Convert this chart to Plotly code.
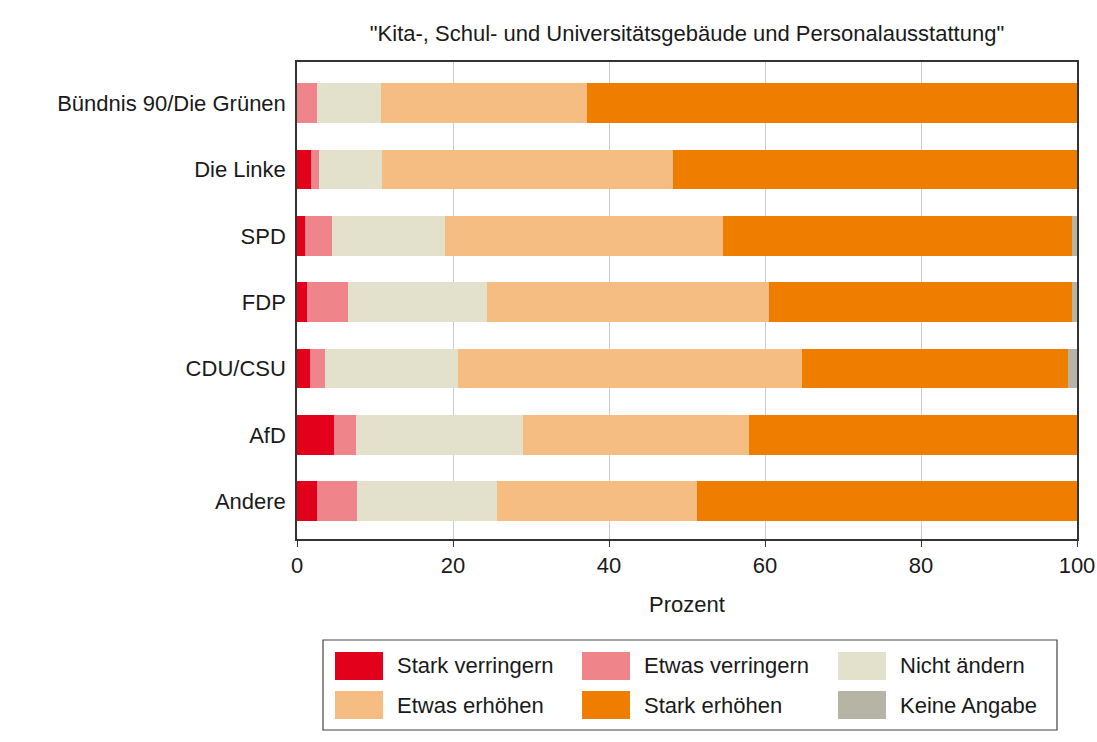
import plotly.graph_objects as go

categories = ["Bündnis 90/Die Grünen", "Die Linke", "SPD", "FDP", "CDU/CSU", "AfD", "Andere"]
series_names = ["Stark verringern", "Etwas verringern", "Nicht ändern",
                "Etwas erhöhen", "Stark erhöhen", "Keine Angabe"]
colors = ["#E3001B", "#F0848B", "#E3E0CC", "#F6BD82", "#EF7D00", "#B5B4A5"]

stark_verringern = [0.0, 1.8, 1.0, 1.3, 1.7, 4.7, 2.6]
etwas_verringern = [2.5, 1.0, 3.5, 5.3, 1.9, 2.9, 5.1]
nicht_aendern = [8.3, 8.1, 14.5, 17.7, 17.1, 21.4, 18.0]
etwas_erhoehen = [26.4, 37.3, 35.6, 36.2, 44.1, 28.9, 25.6]
stark_erhoehen = [62.8, 51.8, 44.8, 38.9, 34.0, 42.1, 48.7]
keine_angabe = [0.0, 0.0, 0.6, 0.6, 1.2, 0.0, 0.0]

series_values = [stark_verringern, etwas_verringern, nicht_aendern,
                 etwas_erhoehen, stark_erhoehen, keine_angabe]

x_ticks = [0, 20, 40, 60, 80, 100]

FONT = "Liberation Sans, Arial, sans-serif"
FS = 22
W, H = 1097, 742
# plot area in window pixel coordinates
PX0, PX1, PY0, PY1 = 297, 1077, 62, 539
L, R, T, B = PX0, W - PX1, PY0, H - PY1
pw, ph = W - L - R, H - T - B

fig = go.Figure()
for name, vals, col in zip(series_names, series_values, colors):
    fig.add_trace(go.Bar(
        y=categories, x=vals, name=name, orientation="h",
        marker=dict(color=col, line=dict(width=0)),
        width=0.6, showlegend=False,
    ))

def px2paper_x(px):
    return (px - PX0) / (PX1 - PX0)

def px2paper_y(py):
    return (PY1 - py) / (PY1 - PY0)

shapes = []
annotations = []
# legend box
shapes.append(dict(type="rect", xref="paper", yref="paper",
                   x0=px2paper_x(323), x1=px2paper_x(1057),
                   y0=px2paper_y(730), y1=px2paper_y(640),
                   line=dict(color="#444444", width=1.2), fillcolor="rgba(0,0,0,0)"))
col_x = [335, 582, 838]
row_y = [652, 691]
for i, (name, col) in enumerate(zip(series_names, colors)):
    r, c = divmod(i, 3)
    x0 = col_x[c]
    y0 = row_y[r]
    shapes.append(dict(type="rect", xref="paper", yref="paper",
                       x0=px2paper_x(x0), x1=px2paper_x(x0 + 48),
                       y0=px2paper_y(y0 + 28), y1=px2paper_y(y0),
                       line=dict(width=0), fillcolor=col))
    annotations.append(dict(xref="paper", yref="paper",
                            x=px2paper_x(x0 + 60), y=px2paper_y(y0 + 14),
                            text=name, showarrow=False, xanchor="left", yanchor="middle",
                            font=dict(family=FONT, size=FS, color="#1a1a1a")))

fig.update_layout(
    width=W, height=H,
    margin=dict(l=L, r=R, t=T, b=B, autoexpand=False),
    barmode="stack",
    plot_bgcolor="white", paper_bgcolor="white",
    font=dict(family=FONT, size=FS, color="#1a1a1a"),
    title=dict(text='"Kita-, Schul- und Universitätsgebäude und Personalausstattung"',
               x=(L + pw / 2) / W, xanchor="center", y=1 - 33 / H, yanchor="middle",
               font=dict(family=FONT, size=FS, color="#1a1a1a")),
    xaxis=dict(range=[0, 100], tickvals=x_ticks, ticktext=[str(v) for v in x_ticks],
               automargin=False,
               showgrid=True, gridcolor="#cccccc", gridwidth=1,
               showline=True, linecolor="#333333", linewidth=1.5, mirror=True,
               ticks="outside", ticklen=6, tickcolor="#333333",
               zeroline=False,
               title=dict(text="Prozent", standoff=19, font=dict(family=FONT, size=FS)),
               tickfont=dict(family=FONT, size=FS)),
    yaxis=dict(categoryorder="array", categoryarray=categories,
               automargin=False,
               range=[6.57, -0.62], showgrid=False,
               showline=True, linecolor="#333333", linewidth=1.5, mirror=True,
               ticks="", ticklabelstandoff=5,
               tickfont=dict(family=FONT, size=FS)),
    shapes=shapes,
    annotations=annotations,
)

fig.write_html("out.html",
               config={"displayModeBar": False},
               post_script="document.body.style.margin='0';document.body.style.overflow='hidden';")
